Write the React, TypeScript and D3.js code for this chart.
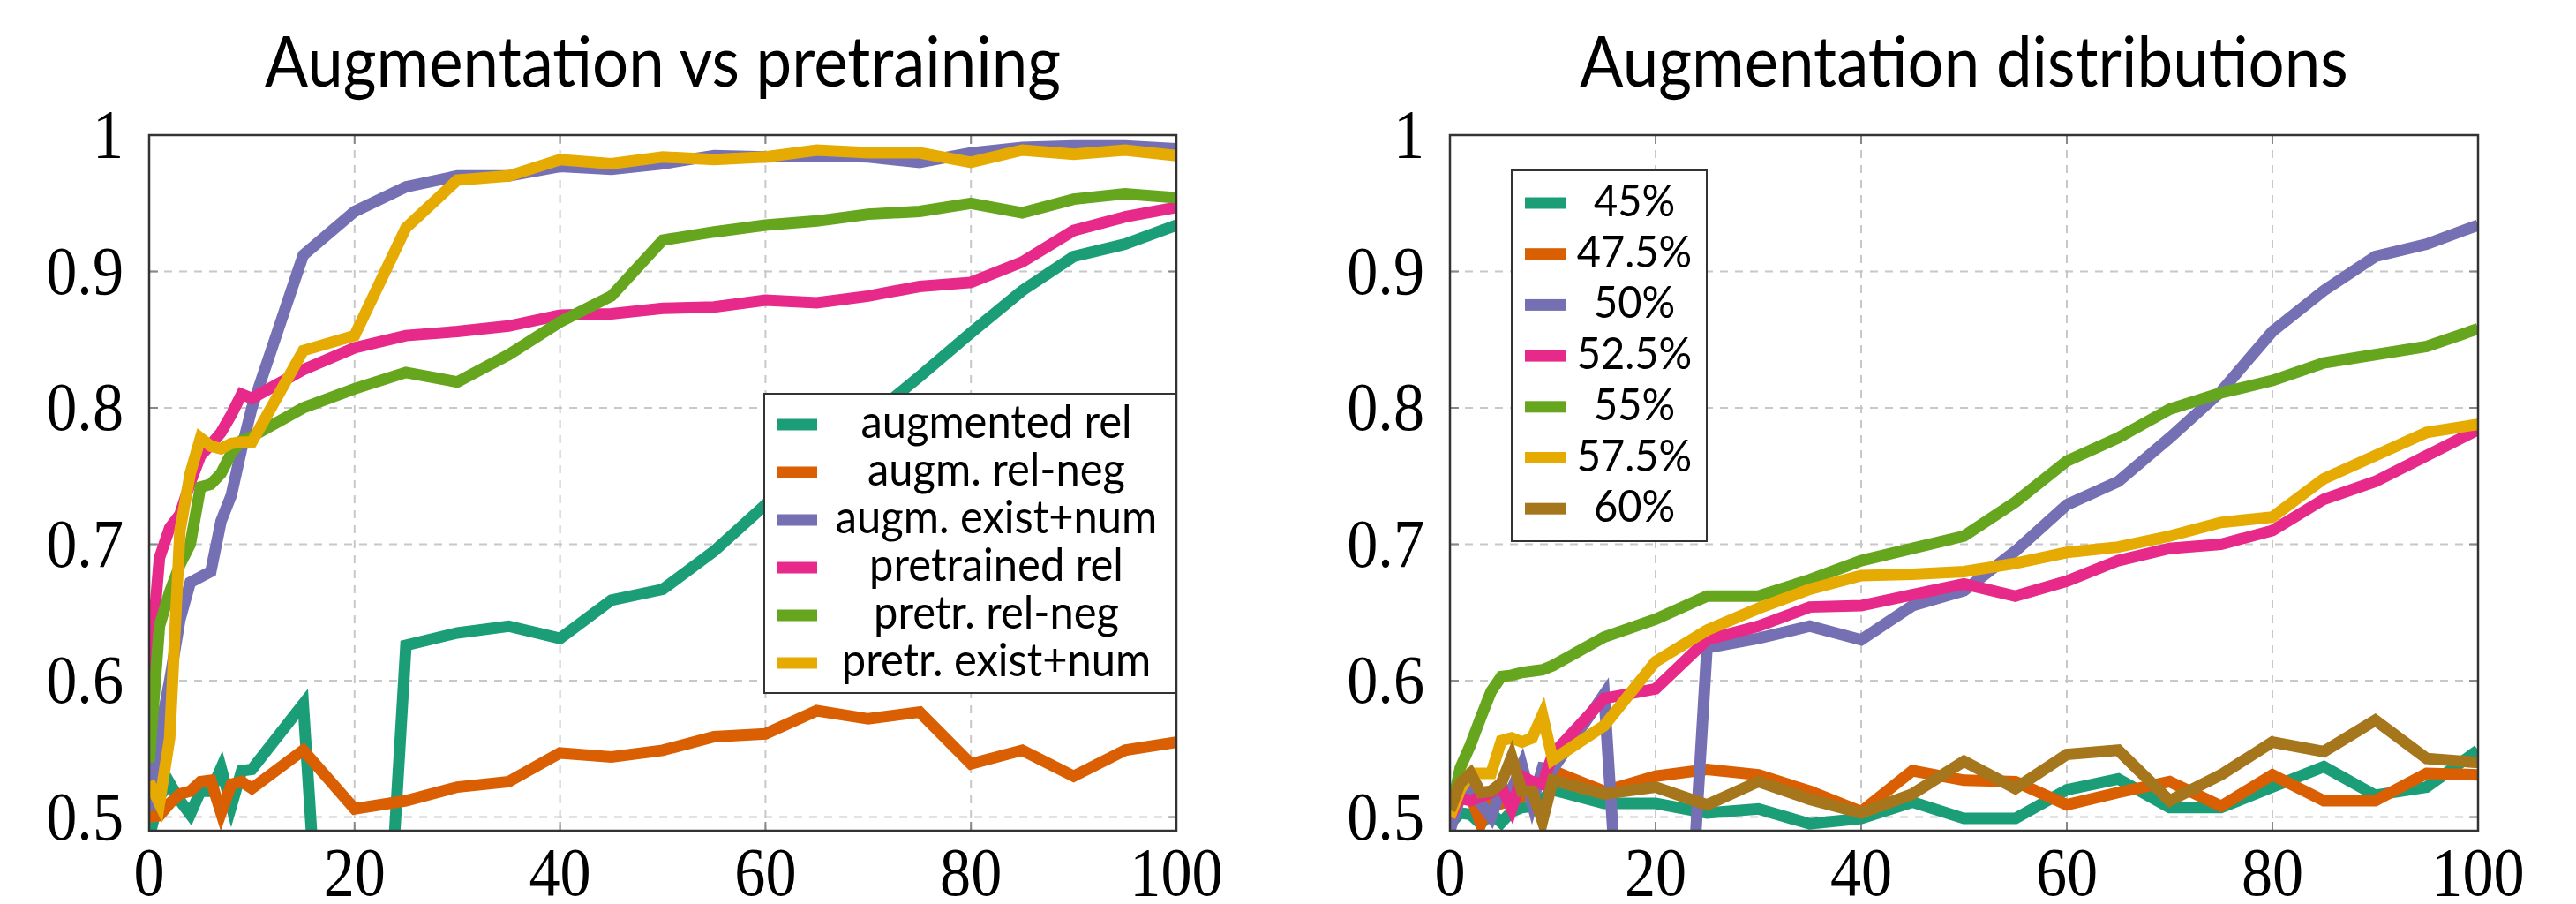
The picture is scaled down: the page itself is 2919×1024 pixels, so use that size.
import React from "react";
import * as d3 from "d3";

// x positions of the runs (dense at the start, then every 5)
const steps = [0, 1, 2, 3, 4, 5, 6, 7, 8, 9, 10, 15, 20, 25, 30, 35, 40, 45, 50, 55, 60, 65, 70, 75, 80, 85, 90, 95, 100];

// left panel: augmentation vs pretraining
const leftNames = ["augmented rel", "augm. rel-neg", "augm. exist+num", "pretrained rel", "pretr. rel-neg", "pretr. exist+num"];
const augmentedRel = [0.485, 0.515, 0.525, 0.512, 0.502, 0.519, 0.519, 0.536, 0.508, 0.534, 0.535, 0.583, 0.0, 0.626, 0.635, 0.640, 0.631, 0.659, 0.667, 0.695, 0.729, 0.760, 0.792, 0.823, 0.855, 0.886, 0.911, 0.920, 0.934];
const augmRelNeg = [0.500, 0.501, 0.510, 0.517, 0.519, 0.526, 0.527, 0.503, 0.524, 0.526, 0.521, 0.549, 0.506, 0.512, 0.522, 0.526, 0.547, 0.544, 0.549, 0.559, 0.561, 0.578, 0.572, 0.577, 0.539, 0.549, 0.530, 0.549, 0.555];
const augmExistNum = [0.505, 0.56, 0.60, 0.645, 0.672, 0.676, 0.68, 0.717, 0.736, 0.77, 0.80, 0.912, 0.944, 0.962, 0.970, 0.970, 0.977, 0.975, 0.979, 0.985, 0.984, 0.985, 0.984, 0.980, 0.987, 0.991, 0.992, 0.992, 0.990];
const pretrainedRel = [0.60, 0.69, 0.712, 0.722, 0.745, 0.765, 0.773, 0.782, 0.795, 0.81, 0.807, 0.828, 0.844, 0.853, 0.856, 0.860, 0.868, 0.869, 0.873, 0.874, 0.879, 0.877, 0.882, 0.889, 0.892, 0.907, 0.930, 0.940, 0.947];
const pretrRelNeg = [0.54, 0.64, 0.665, 0.685, 0.70, 0.742, 0.744, 0.752, 0.767, 0.776, 0.779, 0.80, 0.814, 0.826, 0.819, 0.839, 0.863, 0.882, 0.923, 0.929, 0.934, 0.937, 0.942, 0.944, 0.950, 0.943, 0.953, 0.957, 0.954];
const pretrExistNum = [0.526, 0.51, 0.558, 0.71, 0.752, 0.778, 0.772, 0.770, 0.774, 0.775, 0.775, 0.842, 0.853, 0.932, 0.967, 0.970, 0.982, 0.979, 0.984, 0.982, 0.984, 0.989, 0.987, 0.987, 0.980, 0.989, 0.986, 0.989, 0.985];

// right panel: augmentation distributions
const rightNames = ["45%", "47.5%", "50%", "52.5%", "55%", "57.5%", "60%"];
const p45 = [0.495, 0.503, 0.502, 0.495, 0.503, 0.496, 0.504, 0.507, 0.508, 0.513, 0.52, 0.510, 0.510, 0.503, 0.506, 0.495, 0.499, 0.511, 0.499, 0.499, 0.520, 0.528, 0.507, 0.507, 0.522, 0.537, 0.516, 0.522, 0.549];
const p475 = [0.505, 0.52, 0.516, 0.495, 0.515, 0.51, 0.512, 0.515, 0.52, 0.53, 0.534, 0.519, 0.530, 0.535, 0.531, 0.519, 0.504, 0.534, 0.527, 0.526, 0.509, 0.518, 0.526, 0.508, 0.531, 0.512, 0.512, 0.532, 0.531];
const p50 = [0.49, 0.515, 0.52, 0.51, 0.50, 0.52, 0.52, 0.538, 0.51, 0.536, 0.535, 0.59, 0.0, 0.624, 0.631, 0.640, 0.630, 0.655, 0.666, 0.695, 0.729, 0.746, 0.778, 0.812, 0.856, 0.886, 0.911, 0.920, 0.934];
const p525 = [0.50, 0.514, 0.512, 0.515, 0.518, 0.522, 0.506, 0.53, 0.526, 0.524, 0.546, 0.587, 0.594, 0.630, 0.640, 0.654, 0.655, 0.663, 0.671, 0.662, 0.673, 0.688, 0.697, 0.700, 0.710, 0.733, 0.746, 0.765, 0.784];
const p55 = [0.50, 0.536, 0.553, 0.573, 0.592, 0.603, 0.604, 0.606, 0.607, 0.608, 0.611, 0.632, 0.645, 0.662, 0.662, 0.674, 0.688, 0.697, 0.706, 0.731, 0.761, 0.778, 0.799, 0.811, 0.820, 0.833, 0.839, 0.845, 0.858];
const p575 = [0.50, 0.52, 0.532, 0.532, 0.532, 0.556, 0.558, 0.555, 0.558, 0.575, 0.542, 0.567, 0.614, 0.637, 0.653, 0.667, 0.677, 0.678, 0.680, 0.686, 0.694, 0.698, 0.706, 0.716, 0.720, 0.748, 0.765, 0.782, 0.788];
const p60 = [0.505, 0.525, 0.532, 0.518, 0.519, 0.525, 0.544, 0.519, 0.519, 0.497, 0.527, 0.517, 0.522, 0.509, 0.526, 0.513, 0.503, 0.517, 0.541, 0.521, 0.546, 0.549, 0.512, 0.531, 0.555, 0.548, 0.571, 0.543, 0.540];

const xTicks = [0, 20, 40, 60, 80, 100];
const yTicks = [0.5, 0.6, 0.7, 0.8, 0.9, 1];

const colors = d3.schemeDark2;
const SANS = "Lato, 'Noto Sans', sans-serif";
const SERIF = "'Liberation Serif', 'DejaVu Serif', serif";

function Panel({ id, left, right, title, names, series, legend }) {
  const top = 153;
  const bottom = 941;
  const x = d3.scaleLinear().domain([0, 100]).range([left, right]);
  const y = d3.scaleLinear().domain([0.49, 1]).range([bottom, top]);
  const line = d3
    .line<number>()
    .x((_, i) => x(steps[i]))
    .y((d) => y(d));

  return (
    <g>
      <text
        transform={`translate(${(left + right) / 2},98) scale(0.92,1)`}
        textAnchor="middle"
        fontFamily={SANS}
        fontSize={79}
      >
        {title}
      </text>
      <clipPath id={id}>
        <rect x={left} y={top} width={right - left} height={bottom - top} />
      </clipPath>

      {/* grid */}
      {xTicks.map((t) => (
        <line key={"gx" + t} x1={x(t)} x2={x(t)} y1={top} y2={bottom} stroke="#c8c8c8" strokeWidth={2} strokeDasharray="9,8" />
      ))}
      {yTicks.map((t) => (
        <line key={"gy" + t} x1={left} x2={right} y1={y(t)} y2={y(t)} stroke="#c8c8c8" strokeWidth={2} strokeDasharray="9,8" />
      ))}
      {/* small inward ticks */}
      {xTicks.map((t) => (
        <g key={"tx" + t} stroke="#888" strokeWidth={2}>
          <line x1={x(t)} x2={x(t)} y1={bottom} y2={bottom - 10} />
          <line x1={x(t)} x2={x(t)} y1={top} y2={top + 10} />
        </g>
      ))}
      {yTicks.map((t) => (
        <g key={"ty" + t} stroke="#888" strokeWidth={2}>
          <line x1={left} x2={left + 10} y1={y(t)} y2={y(t)} />
          <line x1={right} x2={right - 10} y1={y(t)} y2={y(t)} />
        </g>
      ))}

      <g clipPath={`url(#${id})`}>
        {series.map((s, i) => (
          <path key={i} d={line(s) || ""} fill="none" stroke={colors[i]} strokeWidth={13} />
        ))}
      </g>

      <rect x={left} y={top} width={right - left} height={bottom - top} fill="none" stroke="#333" strokeWidth={2.5} />

      {/* tick labels */}
      {yTicks.map((t) => (
        <text
          key={"ly" + t}
          transform={`translate(${left - 29},${y(t) + 25}) scale(0.9,1)`}
          textAnchor="end"
          fontFamily={SERIF}
          fontSize={78}
        >
          {String(t)}
        </text>
      ))}
      {xTicks.map((t) => (
        <text
          key={"lx" + t}
          transform={`translate(${x(t)},1014) scale(0.9,1)`}
          textAnchor="middle"
          fontFamily={SERIF}
          fontSize={78}
        >
          {String(t)}
        </text>
      ))}

      {/* legend */}
      <rect x={legend.x} y={legend.y} width={legend.w} height={legend.h} fill="white" stroke="#333" strokeWidth={2} />
      {names.map((n, i) => {
        const cy = legend.row0 + i * legend.step;
        return (
          <g key={n}>
            <rect x={legend.sx} y={cy - 6.5} width={46} height={13} fill={colors[i]} />
            <text
              transform={`translate(${legend.tx},${cy + 15}) scale(0.94,1)`}
              textAnchor="middle"
              fontFamily={SANS}
              fontSize={legend.fs}
            >
              {n}
            </text>
          </g>
        );
      })}
    </g>
  );
}

export default function App() {
  return (
    <div style={{ position: "absolute", left: 0, top: 0 }}>
      <svg width={2919} height={1024} style={{ display: "block", background: "white" }}>
        <Panel
          id="clipL"
          left={169}
          right={1333}
          title="Augmentation vs pretraining"
          names={leftNames}
          series={[augmentedRel, augmRelNeg, augmExistNum, pretrainedRel, pretrRelNeg, pretrExistNum]}
          legend={{ x: 866, y: 446, w: 467, h: 339, row0: 481, step: 54, sx: 880, tx: 1129, fs: 52 }}
        />
        <Panel
          id="clipR"
          left={1643}
          right={2808}
          title="Augmentation distributions"
          names={rightNames}
          series={[p45, p475, p50, p525, p55, p575, p60]}
          legend={{ x: 1713, y: 193, w: 221, h: 420, row0: 230, step: 57.7, sx: 1728, tx: 1852, fs: 50 }}
        />
      </svg>
    </div>
  );
}
